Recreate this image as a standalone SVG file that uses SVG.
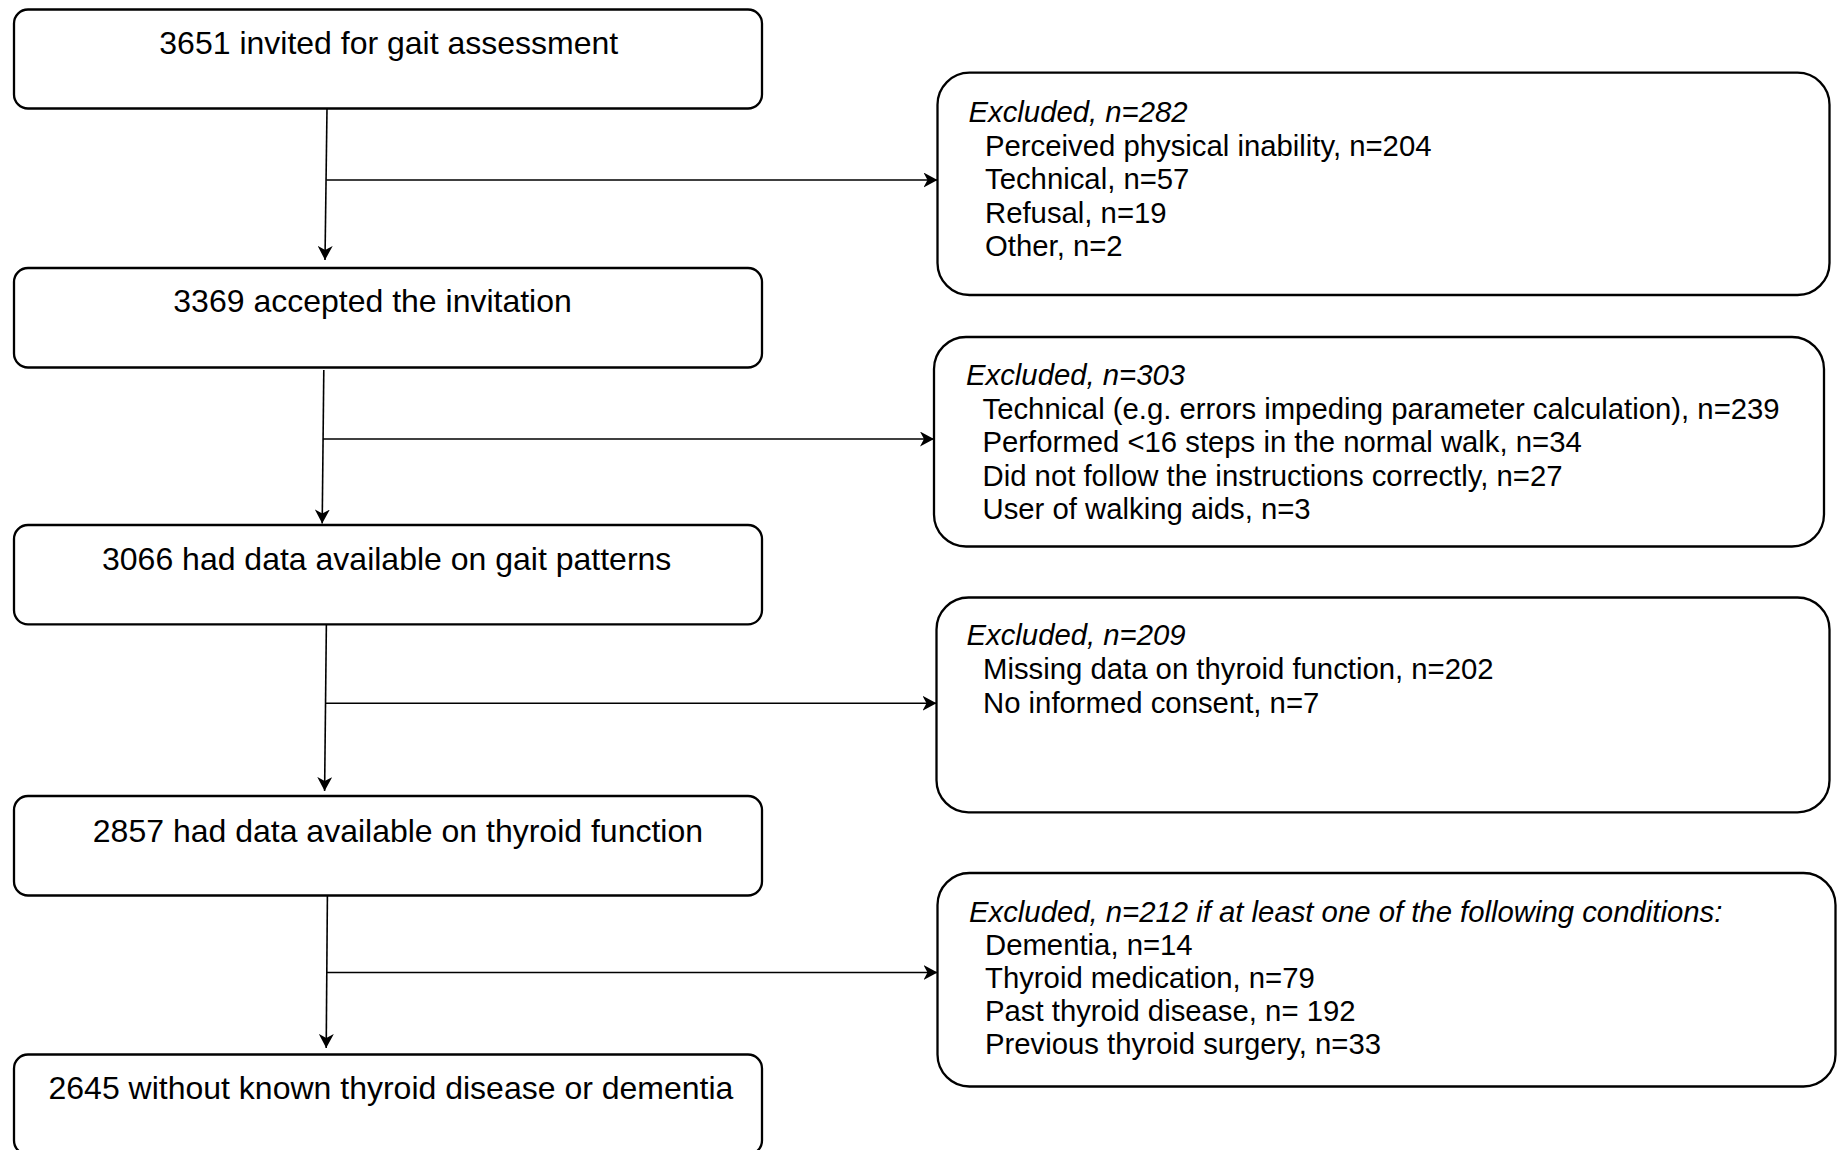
<svg xmlns="http://www.w3.org/2000/svg" width="1838" height="1150" viewBox="0 0 1838 1150">
<style>
.main{fill:#fff;stroke:#000;stroke-width:2.3}
.exc{fill:#fff;stroke:#000;stroke-width:2.3}
.mt{font-family:"Liberation Sans",Arial,sans-serif;font-size:32px;fill:#000}
.et{font-family:"Liberation Sans",Arial,sans-serif;font-size:29.3px;fill:#000}
.hd{font-style:italic}
.conn{fill:none;stroke:#000;stroke-width:1.6}
</style>
<defs>
<marker id="arr" viewBox="0 0 14 15" refX="14" refY="7.5" markerWidth="14" markerHeight="15" orient="auto" markerUnits="userSpaceOnUse">
<path d="M0,0 L14,7.5 L0,15 L4,7.5 z" fill="#000"/>
</marker>
</defs>
<rect width="1838" height="1150" fill="#fff"/>

<g id="connectors">
<path class="conn" d="M327,108.5 L325,260" marker-end="url(#arr)"/>
<path class="conn" d="M326.3,180 L937.5,180" marker-end="url(#arr)"/>
<path class="conn" d="M323.8,370 L322.2,523.5" marker-end="url(#arr)"/>
<path class="conn" d="M323,439 L934,439" marker-end="url(#arr)"/>
<path class="conn" d="M326.4,621.5 L324.6,791" marker-end="url(#arr)"/>
<path class="conn" d="M326,703.3 L936.5,703.3" marker-end="url(#arr)"/>
<path class="conn" d="M327.4,895.7 L326.2,1048" marker-end="url(#arr)"/>
<path class="conn" d="M327,972.5 L937.5,972.5" marker-end="url(#arr)"/>
</g>

<g id="n1">
<rect class="main" x="14" y="9.5" width="748" height="99" rx="14" ry="14"/>
<text class="mt" x="159.3" y="54">3651 invited for gait assessment</text>
</g>
<g id="n2">
<rect class="main" x="14" y="268" width="748" height="99.5" rx="14" ry="14"/>
<text class="mt" x="173.3" y="312">3369 accepted the invitation</text>
</g>
<g id="n3">
<rect class="main" x="14" y="525" width="748" height="99.3" rx="14" ry="14"/>
<text class="mt" x="102" y="570">3066 had data available on gait patterns</text>
</g>
<g id="n4">
<rect class="main" x="14" y="796" width="748" height="99.5" rx="14" ry="14"/>
<text class="mt" x="92.8" y="841.5">2857 had data available on thyroid function</text>
</g>
<g id="n5">
<rect class="main" x="14" y="1054.5" width="748" height="100" rx="14" ry="14"/>
<text class="mt" x="48.5" y="1099">2645 without known thyroid disease or dementia</text>
</g>

<g id="e1">
<rect class="exc" x="937.5" y="72.7" width="892" height="222.3" rx="32" ry="32"/>
<text class="et hd" x="968.5" y="122">Excluded, n=282</text>
<text class="et" x="985" y="155.5">Perceived physical inability, n=204</text>
<text class="et" x="985" y="189">Technical, n=57</text>
<text class="et" x="985" y="222.5">Refusal, n=19</text>
<text class="et" x="985" y="256">Other, n=2</text>
</g>
<g id="e2">
<rect class="exc" x="934" y="337" width="890" height="209.5" rx="32" ry="32"/>
<text class="et hd" x="966" y="385">Excluded, n=303</text>
<text class="et" x="982.5" y="418.5">Technical (e.g. errors impeding parameter calculation), n=239</text>
<text class="et" x="982.5" y="452">Performed &lt;16 steps in the normal walk, n=34</text>
<text class="et" x="982.5" y="485.5">Did not follow the instructions correctly, n=27</text>
<text class="et" x="982.5" y="519">User of walking aids, n=3</text>
</g>
<g id="e3">
<rect class="exc" x="936.5" y="597.5" width="893" height="214.8" rx="32" ry="32"/>
<text class="et hd" x="966.5" y="644.5">Excluded, n=209</text>
<text class="et" x="983" y="679">Missing data on thyroid function, n=202</text>
<text class="et" x="983" y="713">No informed consent, n=7</text>
</g>
<g id="e4">
<rect class="exc" x="937.5" y="873" width="898" height="213.5" rx="32" ry="32"/>
<text class="et hd" x="969" y="922">Excluded, n=212 if at least one of the following conditions:</text>
<text class="et" x="985" y="955">Dementia, n=14</text>
<text class="et" x="985" y="988">Thyroid medication, n=79</text>
<text class="et" x="985" y="1021">Past thyroid disease, n= 192</text>
<text class="et" x="985" y="1054">Previous thyroid surgery, n=33</text>
</g>
</svg>
